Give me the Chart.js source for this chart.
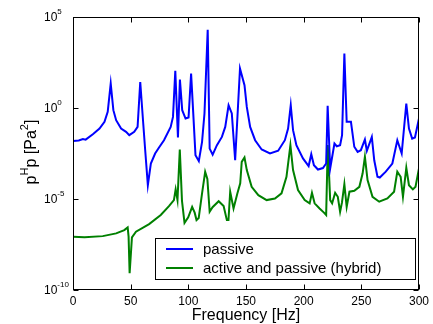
<!DOCTYPE html>
<html>
<head>
<meta charset="utf-8">
<script src="https://cdn.jsdelivr.net/npm/chart.js@4"></script>
<style>
  html, body { margin: 0; padding: 0; background: #fff; }
  #wrap { width: 433px; height: 324px; }
</style>
</head>
<body>
<div id="wrap"><canvas id="chart" width="433" height="324"></canvas></div>
<script>
// frequency (Hz) and log10 of p^H p (Pa^2)
const passiveHz = [0, 5, 8.6, 11, 17.2, 23, 27.3, 30.1, 32.7, 35, 37.4, 41.7, 46, 48.8, 53.1, 56, 58.3, 60.9, 62.6, 64.9, 67.5, 71.2, 74.6, 78.9, 84.7, 86.7, 88.7, 91, 92.7, 94.7, 97.6, 100.2, 102.4, 104.2, 106.2, 109.1, 111.9, 114, 116.8, 118.5, 121.1, 124.8, 129.1, 132, 134.9, 137.7, 140.6, 144.8, 148.7, 150.7, 153.6, 157.9, 163.6, 170.8, 177.9, 183.7, 186.5, 188.8, 190.8, 193.7, 199.4, 204.3, 206.6, 208.9, 212.4, 216.7, 219.5, 220.8, 223, 226.7, 228.7, 231.6, 233.3, 235.3, 237.3, 241, 243.9, 246.8, 249.6, 253.1, 254.8, 259.1, 261.2, 264, 266, 271.2, 276.9, 281.2, 285, 289, 291.3, 294.1, 296.5, 300];
const passiveLog = [-1.81, -1.78, -1.70, -1.74, -1.44, -1.13, -0.76, -0.21, 1.34, -0.12, -0.67, -1.13, -1.31, -1.49, -1.31, -1.04, 1.43, -0.85, -2.32, -4.24, -3.05, -2.50, -2.17, -1.77, -1.04, -0.49, 2.04, -1.62, 1.56, -0.12, -0.58, -0.52, 1.89, -0.21, -2.59, -2.92, -1.86, -0.30, 4.30, -2.23, -2.56, -2.04, -1.59, -1.04, 0.15, -0.30, -2.87, 2.17, 1.25, 0.06, -1.04, -1.77, -2.28, -2.50, -2.35, -1.77, -1.13, 0.15, -1.22, -2.04, -2.77, -3.19, -2.54, -3.14, -3.38, -3.30, -3.05, 0.12, -3.32, -1.95, -2.10, -2.04, -1.49, 2.99, -0.76, -0.76, -2.13, -2.41, -2.32, -1.73, -2.35, -1.59, -2.87, -3.78, -3.82, -3.50, -3.05, -1.77, -2.50, 0.24, -1.13, -1.68, -1.62, -0.58];

const hybridHz = [0, 10, 25.8, 37.4, 44.5, 47.4, 48.2, 49.1, 51.1, 54.6, 66, 76.1, 83.2, 87.5, 89, 90.6, 92.6, 94.5, 96.7, 99.9, 103.3, 105.5, 107.1, 109, 111.9, 114.6, 116.5, 118.5, 121, 126.3, 130.6, 133.4, 134.8, 136.3, 139.2, 142.5, 145, 146.3, 148.7, 150.7, 154.9, 160.7, 167.9, 175.1, 180.8, 185.1, 188.5, 190.8, 195.1, 200.9, 205.2, 207.2, 209.5, 213.8, 217.6, 219.5, 220.9, 223, 224.7, 227.3, 229.6, 231.6, 233.2, 235.3, 237.3, 239.7, 243.9, 248.3, 251.1, 253.1, 255.4, 259.7, 265.5, 272.6, 278.4, 281.2, 284.1, 286.1, 289, 291.3, 294.7, 297, 300];
const hybridLog = [-7.07, -7.10, -7.04, -6.89, -6.71, -6.56, -7.07, -9.08, -7.11, -6.80, -6.38, -5.88, -5.39, -5.06, -4.47, -5.06, -2.28, -5.10, -6.31, -6.01, -5.43, -5.75, -6.16, -6.05, -4.69, -3.51, -3.90, -5.70, -5.45, -5.12, -5.39, -6.16, -6.16, -4.60, -5.52, -4.70, -4.14, -2.96, -2.72, -3.41, -4.33, -4.79, -5.06, -4.97, -4.69, -3.78, -2.04, -3.41, -4.51, -5.06, -5.24, -4.66, -5.24, -5.52, -5.75, -5.88, -2.04, -5.06, -5.24, -4.66, -4.88, -5.70, -5.20, -4.18, -5.43, -4.60, -4.55, -4.33, -3.60, -2.68, -3.96, -4.88, -5.15, -4.97, -4.60, -3.50, -3.78, -4.88, -3.29, -4.24, -4.47, -4.33, -3.32];

const seriesNames = ["passive", "active and passive (hybrid)"];
const seriesColors = ["#0000ff", "#008000"];
const xTicks = [0, 50, 100, 150, 200, 250, 300];
const yTickExp = [5, 0, -5, -10];

const FONT = "'Liberation Sans', Arial, sans-serif";

function pts(hz, lg) {
  return hz.map((f, i) => ({ x: f, y: Math.pow(10, lg[i]) }));
}

const framePlugin = {
  id: "frame",
  afterDraw(chart) {
    const ctx = chart.ctx, a = chart.chartArea;
    const xs = chart.scales.x, ys = chart.scales.y;
    ctx.save();
    ctx.strokeStyle = "#000";
    ctx.lineWidth = 1;
    const L = Math.round(a.left) + 0.5, R = Math.round(a.right) - 0.5;
    const T = Math.round(a.top) + 0.5, B = Math.round(a.bottom) - 0.5;
    ctx.strokeRect(L, T, R - L, B - T);

    // inward ticks
    ctx.beginPath();
    xTicks.forEach(v => {
      const px = Math.round(xs.getPixelForValue(v)) + 0.5;
      ctx.moveTo(px, B); ctx.lineTo(px, B - 5);
      ctx.moveTo(px, T); ctx.lineTo(px, T + 5);
    });
    yTickExp.forEach(e => {
      const py = Math.round(ys.getPixelForValue(Math.pow(10, e))) + 0.5;
      ctx.moveTo(L, py); ctx.lineTo(L + 5, py);
      ctx.moveTo(R, py); ctx.lineTo(R - 5, py);
    });
    ctx.stroke();

    // y tick labels 10^n
    ctx.fillStyle = "#000";
    ctx.textBaseline = "middle";
    ctx.textAlign = "left";
    yTickExp.forEach(e => {
      const py = ys.getPixelForValue(Math.pow(10, e));
      ctx.font = "12px " + FONT;
      ctx.fillText("10", 44, py + 1);
      const w = ctx.measureText("10").width;
      ctx.font = "8px " + FONT;
      ctx.fillText(String(e), 44 + w, py - 5);
    });

    // x axis title
    ctx.font = "16px " + FONT;
    ctx.textAlign = "center";
    ctx.fillText("Frequency [Hz]", (a.left + a.right) / 2, 316);

    // y axis title with superscripts
    ctx.save();
    ctx.translate(32, 152);
    ctx.rotate(-Math.PI / 2);
    const parts = [["p", 0], ["H", 1], ["p [Pa", 0], ["2", 1], ["]", 0]];
    let total = 0;
    parts.forEach(([t, s]) => {
      ctx.font = (s ? "11px " : "16px ") + FONT;
      total += ctx.measureText(t).width;
    });
    let cx = -total / 2;
    ctx.textAlign = "left";
    parts.forEach(([t, s]) => {
      ctx.font = (s ? "11px " : "16px ") + FONT;
      ctx.fillText(t, cx, s ? -7 : 0);
      cx += ctx.measureText(t).width;
    });
    ctx.restore();

    // legend
    const bx = 155, by = 238, bw = 260, bh = 41;
    ctx.fillStyle = "#fff";
    ctx.fillRect(bx, by, bw, bh);
    ctx.strokeRect(bx + 0.5, by + 0.5, bw, bh);
    ctx.font = "15px " + FONT;
    ctx.textAlign = "left";
    ctx.textBaseline = "middle";
    seriesNames.forEach((name, i) => {
      const ry = by + 11 + i * 19;
      ctx.strokeStyle = seriesColors[i];
      ctx.lineWidth = 2;
      ctx.beginPath();
      ctx.moveTo(166, ry); ctx.lineTo(193, ry);
      ctx.stroke();
      ctx.fillStyle = "#000";
      ctx.fillText(name, 203, ry + 1);
    });
    ctx.restore();
  }
};

new Chart(document.getElementById("chart").getContext("2d"), {
  type: "line",
  data: {
    datasets: [
      { label: seriesNames[0], data: pts(passiveHz, passiveLog), borderColor: seriesColors[0], borderWidth: 2, pointRadius: 0, tension: 0, fill: false },
      { label: seriesNames[1], data: pts(hybridHz, hybridLog), borderColor: seriesColors[1], borderWidth: 2, pointRadius: 0, tension: 0, fill: false }
    ]
  },
  options: {
    responsive: false,
    animation: false,
    events: [],
    layout: { padding: { top: 17, right: 11, left: 0, bottom: 0 } },
    plugins: { legend: { display: false }, tooltip: { enabled: false } },
    scales: {
      x: {
        type: "linear", min: 0, max: 300,
        afterFit: s => { s.height = 34; },
        afterBuildTicks: s => { s.ticks = xTicks.map(v => ({ value: v })); },
        grid: { display: false, drawTicks: false, tickLength: 0 },
        border: { display: false },
        ticks: { color: "#000", font: { size: 12, family: FONT }, padding: 4, maxRotation: 0 }
      },
      y: {
        type: "logarithmic", min: 1e-10, max: 1e5,
        afterFit: s => { s.width = 73; },
        grid: { display: false, drawTicks: false },
        border: { display: false },
        ticks: { display: false }
      }
    }
  },
  plugins: [framePlugin]
});
</script>
</body>
</html>
